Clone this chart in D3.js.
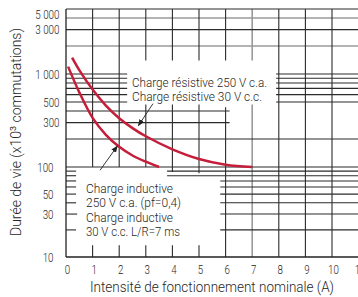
<!DOCTYPE html>
<html><head><meta charset="utf-8">
<script src="https://cdn.jsdelivr.net/npm/d3@7"></script>
<style>
html,body{margin:0;padding:0;background:#fff;}
svg{display:block;}
text{font-family:Roboto,"Liberation Sans Narrow","DejaVu Sans Condensed",sans-serif;font-weight:300;fill:#262626;}
</style></head>
<body>
<svg id="c" width="358" height="297"></svg>
<script>
// ---- data ----
const xTickValues = [0,1,2,3,4,5,6,7,8,9,10,11];
const xTickLabels = ["0","1","2","3","4","5","6","7","8","9","10","11"];
const yTickValues = [5000,3000,1000,500,300,100,50,30,10];
const yTickLabels = ["5 000","3 000","1 000","500","300","100","50","30","10"];

const resistiveX = [0.23, 0.5, 1, 1.5, 2, 2.5, 3, 4, 5, 6, 7];
const resistiveY = [1500, 1100, 680, 458, 335, 262, 214, 155, 122, 106, 100];
const inductiveX = [0.08, 0.5, 1, 1.5, 2, 2.5, 3, 3.5];
const inductiveY = [1200, 635, 338, 222, 165, 133, 114, 100];

const resistiveLabel = ["Charge résistive 250 V c.a.", "Charge résistive 30 V c.c."];
const inductiveLabel = ["Charge inductive", "250 V c.a. (pf=0,4)", "Charge inductive", "30 V c.c. L/R=7 ms"];
const xTitle = "Intensité de fonctionnement nominale (A)";
const yTitle = "Durée de vie (x10³ commutations)";

// grid lines of the log paper: [value, from, to] in data units
const hGrid = [
  [5000,0,11],[3000,0,11],[200,0,11],[100,0,11],
  [1000,0,2.3],[900,0,2.3],[800,0,2.3],[700,0,2.3],[600,0,2.3],[500,0,2.3],
  [1000,7.9,11],[900,7.9,11],[800,7.9,11],[700,7.9,11],[600,7.9,11],[500,7.9,11],
  [400,0,6.15],[300,0,6.15],
  [90,0,0.38],[80,0,0.38],[70,0,0.38],[60,0,0.38],[50,0,0.38],[40,0,0.38],[30,0,0.42],[20,0,0.38],
  [90,3.8,11],[80,3.8,11],[70,5.8,11],[60,5.8,11],[50,5.8,11],[40,5.8,11],[30,5.8,11],[20,5.8,11]
];
const hGridLight = [[4000,0,11],[2000,0,11]];
const vGrid = [
  [1,100,5000],[2,100,5000],
  [3,5000,1400],[3,470,100],
  [4,5000,1400],[4,470,88],
  [5,5000,1400],[5,470,85],
  [6,5000,1400],[6,440,10],
  [8,10,5000],[9,10,5000],[10,10,5000],
  [1,10,13.5],[2,10,13.5],[3,10,13.5],[4,10,13.5],[5,10,13.5]
];
const vGridLight = [[7,5000,1400],[7,470,10]];

// ---- scales ----
const svg = d3.select("#c");
const x = d3.scaleLinear().domain([0, 11]).range([66, 358.6]);
const y = d3.scaleLog().domain([10, 100, 5000]).range([257, 167, 9]);

// grid
const g = svg.append("g");
g.selectAll("line.hl").data(hGridLight).join("line")
  .attr("x1", d => x(d[1])).attr("x2", d => x(d[2]))
  .attr("y1", d => y(d[0])).attr("y2", d => y(d[0]))
  .attr("stroke", "#9a9a9a").attr("stroke-width", 1.6);
g.selectAll("line.vl").data(vGridLight).join("line")
  .attr("x1", d => x(d[0])).attr("x2", d => x(d[0]))
  .attr("y1", d => y(d[1])).attr("y2", d => y(d[2]))
  .attr("stroke", "#9a9a9a").attr("stroke-width", 1.6);
g.selectAll("line.h").data(hGrid).join("line")
  .attr("x1", d => x(d[1])).attr("x2", d => x(d[2]))
  .attr("y1", d => y(d[0])).attr("y2", d => y(d[0]))
  .attr("stroke", "#2b2b2b").attr("stroke-width", 1.1);
g.selectAll("line.v").data(vGrid).join("line")
  .attr("x1", d => x(d[0])).attr("x2", d => x(d[0]))
  .attr("y1", d => y(d[1])).attr("y2", d => y(d[2]))
  .attr("stroke", "#2b2b2b").attr("stroke-width", 1.1);

// axes lines
svg.append("line").attr("x1", x(0)).attr("x2", x(0)).attr("y1", y(5000)).attr("y2", y(10))
  .attr("stroke", "#222").attr("stroke-width", 1.3);
svg.append("line").attr("x1", x(0)).attr("x2", x(11)).attr("y1", y(10)).attr("y2", y(10))
  .attr("stroke", "#222").attr("stroke-width", 1.3);

// tick labels
const tw = s => s.replace(/ /g, "").length * 5.4 + (s.split(" ").length - 1) * 2.6;
svg.selectAll("text.xt").data(xTickValues).join("text")
  .attr("x", d => x(d) + 1.5).attr("y", 274)
  .attr("text-anchor", "middle").attr("font-size", 13.5)
  .attr("textLength", (d, i) => tw(xTickLabels[i])).attr("lengthAdjust", "spacingAndGlyphs")
  .text((d, i) => xTickLabels[i]);
svg.selectAll("text.yt").data(yTickValues).join("text")
  .attr("x", d => d >= 300 ? 59.5 : 53.5)
  .attr("y", d => Math.max(y(d), 14))
  .attr("dy", "0.36em")
  .attr("text-anchor", "end").attr("font-size", 13.5)
  .attr("textLength", (d, i) => tw(yTickLabels[i])).attr("lengthAdjust", "spacingAndGlyphs")
  .text((d, i) => yTickLabels[i]);

// curves
const line = d3.line().x(d => x(d[0])).y(d => y(d[1])).curve(d3.curveCatmullRom.alpha(0.5));
svg.append("path").datum(resistiveX.map((v, i) => [v, resistiveY[i]]))
  .attr("d", line).attr("fill", "none").attr("stroke", "#c41e3a").attr("stroke-width", 2.5);
svg.append("path").datum(inductiveX.map((v, i) => [v, inductiveY[i]]))
  .attr("d", line).attr("fill", "none").attr("stroke", "#c41e3a").attr("stroke-width", 2.5);

// arrows
svg.append("defs").append("marker").attr("id", "ah")
  .attr("viewBox", "0 0 10 10").attr("refX", 9).attr("refY", 5)
  .attr("markerWidth", 7).attr("markerHeight", 7).attr("orient", "auto-start-reverse")
  .attr("markerUnits", "userSpaceOnUse")
  .append("path").attr("d", "M0,1 L10,5 L0,9 z").attr("fill", "#222");
const arrows = [[3.27, 480, 2.72, 278], [1.28, 92, 1.93, 168]];
svg.selectAll("line.ar").data(arrows).join("line")
  .attr("x1", d => x(d[0])).attr("y1", d => y(d[1]))
  .attr("x2", d => x(d[2])).attr("y2", d => y(d[3]))
  .attr("stroke", "#222").attr("stroke-width", 0.9).attr("marker-end", "url(#ah)");

// annotation texts
const rW = [135, 130];
svg.selectAll("text.rl").data(resistiveLabel).join("text")
  .attr("x", 132).attr("y", (d, i) => 87 + i * 13.6)
  .attr("font-size", 12.5).attr("textLength", (d, i) => rW[i]).attr("lengthAdjust", "spacingAndGlyphs")
  .text(d => d);
const iW = [87, 95, 87, 94];
svg.selectAll("text.il").data(inductiveLabel).join("text")
  .attr("x", 86).attr("y", (d, i) => 193 + i * 14.3)
  .attr("font-size", 12.5).attr("textLength", (d, i) => iW[i]).attr("lengthAdjust", "spacingAndGlyphs")
  .text(d => d);

// titles
svg.append("text").attr("x", 212).attr("y", 292).attr("text-anchor", "middle")
  .attr("font-size", 14.5).attr("textLength", 244).attr("lengthAdjust", "spacingAndGlyphs").text(xTitle);
svg.append("text").attr("transform", "translate(21,132) rotate(-90)").attr("text-anchor", "middle")
  .attr("font-size", 15).attr("textLength", 208).attr("lengthAdjust", "spacingAndGlyphs").text(yTitle);
</script>
</body></html>
